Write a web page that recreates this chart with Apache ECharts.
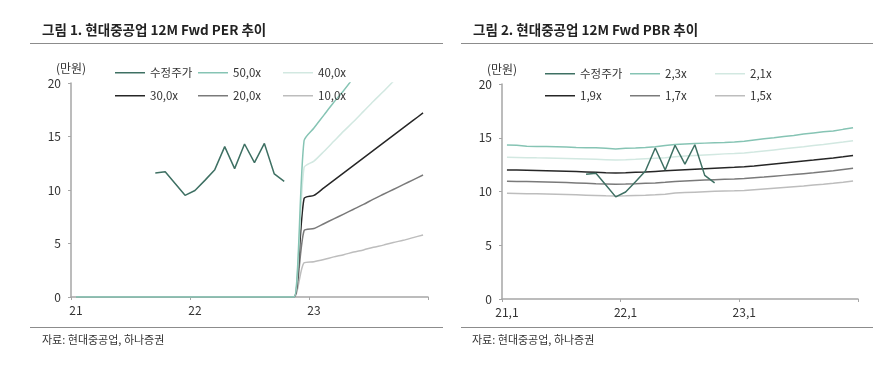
<!DOCTYPE html>
<html>
<head>
<meta charset="utf-8">
<script src="https://cdn.jsdelivr.net/npm/echarts@6/dist/echarts.min.js"></script>
<style>
html, body { margin: 0; padding: 0; background: #fff; }
#chart { width: 893px; height: 375px; }
</style>
</head>
<body>
<div id="chart"></div>
<script>
// 월별 카테고리 (21.1 ~ 23.12)
var months = [
	'21.1', '21.2', '21.3', '21.4', '21.5', '21.6', '21.7', '21.8', '21.9', '21.10', '21.11', '21.12',
	'22.1', '22.2', '22.3', '22.4', '22.5', '22.6', '22.7', '22.8', '22.9', '22.10', '22.11', '22.12',
	'23.1', '23.2', '23.3', '23.4', '23.5', '23.6', '23.7', '23.8', '23.9', '23.10', '23.11', '23.12'
];

// 수정주가 (만원)
var price = ['-', '-', '-', '-', '-', '-', '-', '-',
	11.6, 11.7, 10.6, 9.5, 9.95, 10.9, 11.9, 14.05, 12.0, 14.3, 12.55, 14.35, 11.5, 10.8,
	'-', '-', '-', '-', '-', '-', '-', '-', '-', '-', '-', '-', '-', '-'];

// PER 밴드
var per50 = [0, 0, 0, 0, 0, 0, 0, 0, 0, 0, 0, 0, 0, 0, 0, 0, 0, 0, 0, 0, 0, 0, 0,
	14.6, 15.8, 17.0, 18.2, 19.3, 20.5, 21.7, 22.8, 24.0, 25.2, 26.3, 27.5, 28.7];
var per40 = [0, 0, 0, 0, 0, 0, 0, 0, 0, 0, 0, 0, 0, 0, 0, 0, 0, 0, 0, 0, 0, 0, 0,
	12.1, 12.7, 13.6, 14.55, 15.5, 16.4, 17.35, 18.3, 19.2, 20.15, 21.1, 22.0, 22.95];
var per30 = [0, 0, 0, 0, 0, 0, 0, 0, 0, 0, 0, 0, 0, 0, 0, 0, 0, 0, 0, 0, 0, 0, 0,
	9.2, 9.5, 10.2, 10.9, 11.6, 12.3, 13.0, 13.7, 14.4, 15.1, 15.8, 16.5, 17.2];
var per20 = [0, 0, 0, 0, 0, 0, 0, 0, 0, 0, 0, 0, 0, 0, 0, 0, 0, 0, 0, 0, 0, 0, 0,
	6.2, 6.4, 6.85, 7.3, 7.75, 8.2, 8.65, 9.15, 9.6, 10.05, 10.5, 10.95, 11.4];
var per10 = [0, 0, 0, 0, 0, 0, 0, 0, 0, 0, 0, 0, 0, 0, 0, 0, 0, 0, 0, 0, 0, 0, 0,
	3.2, 3.3, 3.5, 3.75, 3.95, 4.2, 4.4, 4.65, 4.85, 5.1, 5.3, 5.55, 5.8];

// PBR 밴드
var pbr23 = [14.33, 14.3, 14.2, 14.18, 14.18, 14.17, 14.15, 14.1, 14.07, 14.06, 14.03, 13.95,
	14.02, 14.05, 14.1, 14.17, 14.28, 14.38, 14.43, 14.47, 14.5, 14.53, 14.56, 14.6,
	14.68, 14.8, 14.9, 15.0, 15.12, 15.22, 15.35, 15.45, 15.55, 15.62, 15.78, 15.93];
var pbr21 = [13.18, 13.17, 13.15, 13.13, 13.12, 13.1, 13.08, 13.05, 13.02, 12.99, 12.96, 12.93,
	12.96, 13.0, 13.05, 13.1, 13.15, 13.24, 13.3, 13.35, 13.4, 13.45, 13.5, 13.53,
	13.58, 13.67, 13.77, 13.87, 13.97, 14.07, 14.17, 14.28, 14.38, 14.49, 14.6, 14.72];
var pbr19 = [12.0, 11.99, 11.97, 11.95, 11.93, 11.91, 11.88, 11.85, 11.82, 11.78, 11.74, 11.72,
	11.74, 11.78, 11.82, 11.87, 11.92, 11.97, 12.02, 12.07, 12.12, 12.17, 12.21, 12.25,
	12.3, 12.38, 12.47, 12.56, 12.65, 12.74, 12.83, 12.92, 13.02, 13.12, 13.23, 13.35];
var pbr17 = [10.95, 10.94, 10.92, 10.9, 10.88, 10.86, 10.83, 10.8, 10.77, 10.73, 10.7, 10.67,
	10.69, 10.72, 10.76, 10.8, 10.85, 10.92, 10.97, 11.02, 11.06, 11.1, 11.13, 11.16,
	11.2, 11.27, 11.34, 11.42, 11.5, 11.58, 11.66, 11.74, 11.83, 11.92, 12.04, 12.16];
var pbr15 = [9.83, 9.82, 9.8, 9.78, 9.76, 9.74, 9.72, 9.69, 9.66, 9.63, 9.6, 9.58,
	9.6, 9.63, 9.66, 9.7, 9.75, 9.85, 9.9, 9.94, 9.98, 10.02, 10.05, 10.07,
	10.1, 10.17, 10.24, 10.31, 10.38, 10.45, 10.52, 10.6, 10.68, 10.77, 10.87, 10.98];

var perNames = ['수정주가', '50,0x', '40,0x', '30,0x', '20,0x', '10,0x'];
var pbrNames = ['수정주가', '2,3x', '2,1x', '1,9x', '1,7x', '1,5x'];
var lineColors = ['#3e7063', '#86c4b4', '#d2e8e1', '#262626', '#7a7a7a', '#bdbdbd'];

var myChart = echarts.init(document.getElementById('chart'));

var font = 'Noto Sans CJK KR';

// 범례는 칸을 맞추려고 항목마다 따로 둔다
function legendItem(left, top, name) {
	return {
		left: left,
		top: top,
		data: [name],
		icon: 'rect',
		itemWidth: 30,
		itemHeight: 1.5,
		selectedMode: false,
		textStyle: { color: '#333', fontSize: 11.5, fontFamily: font }
	};
}

function legendsOf(names, cols, rows) {
	var list = [];
	for (var i = 0; i < names.length; i++) {
		list.push(legendItem(cols[i % 3], rows[Math.floor(i / 3)], names[i]));
	}
	return list;
}

function xAxisOf(idx, fmt) {
	return {
		type: 'category',
		gridIndex: idx,
		data: months,
		boundaryGap: true,
		axisLine: { lineStyle: { color: '#a6a6a6', width: 1.5 } },
		axisTick: { show: true, interval: 11, length: 3, lineStyle: { color: '#a6a6a6' } },
		axisLabel: {
			interval: 11,
			color: '#333',
			fontSize: 12,
			margin: 7,
			formatter: fmt
		},
		splitLine: { show: false }
	};
}

function yAxisOf(idx) {
	return {
		type: 'value',
		gridIndex: idx,
		min: 0,
		max: 20,
		interval: 5,
		name: '(만원)',
		nameLocation: 'end',
		nameGap: 9,
		nameTextStyle: { color: '#333', fontSize: 12, align: 'center' },
		axisLine: { show: true, lineStyle: { color: '#a6a6a6', width: 1.5 } },
		axisTick: { show: true, length: 3, lineStyle: { color: '#a6a6a6' } },
		axisLabel: { color: '#333', fontSize: 12, margin: 10 },
		splitLine: { show: false }
	};
}

function lineSeries(name, data, color, idx, smooth) {
	return {
		type: 'line',
		name: name,
		data: data,
		xAxisIndex: idx,
		yAxisIndex: idx,
		symbol: 'none',
		smooth: smooth,
		clip: true,
		lineStyle: { color: color, width: 1.5 },
		itemStyle: { color: color },
		animation: false
	};
}

var perData = [price, per50, per40, per30, per20, per10];
var pbrData = [price, pbr23, pbr21, pbr19, pbr17, pbr15];
var series = [];
// 밴드를 먼저 그리고 주가는 맨 위에
for (var i = 5; i >= 0; i--) {
	series.push(lineSeries(perNames[i], perData[i], lineColors[i], 0, i === 0 ? false : 0.25));
	series.push(lineSeries(pbrNames[i], pbrData[i], lineColors[i], 1, false));
}

var option = {
	textStyle: { fontFamily: font },
	animation: false,
	title: [{
		text: '그림 1. 현대중공업 12M Fwd PER 추이',
		left: 37, top: 18,
		textStyle: { fontSize: 13.5, fontWeight: 'bold', color: '#222', fontFamily: font }
	}, {
		text: '그림 2. 현대중공업 12M Fwd PBR 추이',
		left: 468, top: 18,
		textStyle: { fontSize: 13.5, fontWeight: 'bold', color: '#222', fontFamily: font }
	}, {
		text: '자료: 현대중공업, 하나증권',
		left: 37, top: 329,
		textStyle: { fontSize: 11, fontWeight: 'normal', color: '#333', fontFamily: font }
	}, {
		text: '자료: 현대중공업, 하나증권',
		left: 467, top: 329,
		textStyle: { fontSize: 11, fontWeight: 'normal', color: '#333', fontFamily: font }
	}],
	legend: legendsOf(perNames, [110, 193, 278], [62, 85])
		.concat(legendsOf(pbrNames, [540, 625, 710], [63, 85])),
	grid: [
		{ left: 71, top: 83, width: 357, height: 214 },
		{ left: 502, top: 84, width: 356, height: 215 }
	],
	xAxis: [
		xAxisOf(0, function(v) { return v.split('.')[0]; }),
		xAxisOf(1, function(v) { return v.replace('.', ','); })
	],
	yAxis: [yAxisOf(0), yAxisOf(1)],
	graphic: [
		{ type: 'line', shape: { x1: 30, y1: 43.5, x2: 443, y2: 43.5 }, style: { stroke: '#8c8c8c', lineWidth: 1 } },
		{ type: 'line', shape: { x1: 461, y1: 43.5, x2: 873, y2: 43.5 }, style: { stroke: '#8c8c8c', lineWidth: 1 } },
		{ type: 'line', shape: { x1: 30, y1: 327.5, x2: 443, y2: 327.5 }, style: { stroke: '#8c8c8c', lineWidth: 1 } },
		{ type: 'line', shape: { x1: 461, y1: 327.5, x2: 873, y2: 327.5 }, style: { stroke: '#8c8c8c', lineWidth: 1 } }
	],
	series: series
};

myChart.setOption(option);
window.addEventListener('resize', function() {
	myChart.resize();
});
</script>
</body>
</html>
